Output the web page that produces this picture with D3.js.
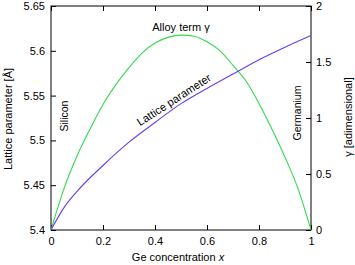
<html>
<script src='https://d3js.org/d3.v7.min.js'></script>
<body style="margin:0;background:#fff">
<div id='vis'></div>
<script>
// Ge concentration samples
let xLattice = [0, 0.05, 0.1, 0.2, 0.3, 0.4, 0.5, 0.6, 0.7, 0.8, 0.9, 1.0];
let lattice = [5.400, 5.425, 5.443, 5.472, 5.498, 5.520, 5.541, 5.558, 5.574, 5.590, 5.604, 5.617];

let xGamma = [0, 0.05, 0.1, 0.15, 0.2, 0.25, 0.3, 0.35, 0.4, 0.45, 0.5, 0.55, 0.6, 0.65, 0.7, 0.75, 0.8, 0.85, 0.9, 0.95, 1.0];
let gamma = [0, 0.37, 0.66, 0.90, 1.12, 1.30, 1.45, 1.58, 1.67, 1.72, 1.74, 1.73, 1.68, 1.60, 1.47, 1.33, 1.13, 0.90, 0.65, 0.37, 0];

let xTicks = [0, 0.2, 0.4, 0.6, 0.8, 1];
let leftTicks = [5.4, 5.45, 5.5, 5.55, 5.6, 5.65];
let rightTicks = [0, 0.5, 1, 1.5, 2];

let W = 355, H = 265;
let m = {left: 51, right: 44, top: 6, bottom: 35};
let font = 'Liberation Sans, Arial, sans-serif';

let svg = d3.select('#vis').append('svg').attr('width', W).attr('height', H)
    .style('font-family', font);

let x = d3.scaleLinear().domain([0, 1]).range([m.left, W - m.right]);
let yL = d3.scaleLinear().domain([5.4, 5.65]).range([H - m.bottom, m.top]);
let yR = d3.scaleLinear().domain([0, 2]).range([H - m.bottom, m.top]);

function styleAxis(g) {
    g.select('.domain').remove();
    g.selectAll('line').attr('stroke', '#000').attr('stroke-width', 1);
    g.selectAll('text').attr('font-size', 11).attr('fill', '#000').style('font-family', font);
}

// ticks point inward
svg.append('g').attr('transform', `translate(0,${H - m.bottom})`)
    .call(d3.axisBottom(x).tickValues(xTicks).tickFormat(d3.format('~g')).tickSizeInner(-5).tickPadding(7))
    .call(styleAxis);
svg.append('g').attr('transform', `translate(0,${m.top})`)
    .call(d3.axisTop(x).tickValues(xTicks).tickSizeInner(-5).tickFormat(''))
    .call(styleAxis);
svg.append('g').attr('transform', `translate(${m.left},0)`)
    .call(d3.axisLeft(yL).tickValues(leftTicks).tickFormat(d3.format('~g')).tickSizeInner(-5).tickPadding(6))
    .call(styleAxis);
svg.append('g').attr('transform', `translate(${W - m.right},0)`)
    .call(d3.axisRight(yR).tickValues(rightTicks).tickFormat(d3.format('~g')).tickSizeInner(-5).tickPadding(5))
    .call(styleAxis);

// frame
svg.append('rect')
    .attr('x', m.left).attr('y', m.top)
    .attr('width', W - m.left - m.right).attr('height', H - m.top - m.bottom)
    .attr('fill', 'none').attr('stroke', '#000').attr('stroke-width', 1);

let lineL = d3.line().x((d, i) => x(xLattice[i])).y(d => yL(d)).curve(d3.curveMonotoneX);
let lineG = d3.line().x((d, i) => x(xGamma[i])).y(d => yR(d)).curve(d3.curveMonotoneX);

svg.append('path').attr('d', lineG(gamma))
    .attr('fill', 'none').attr('stroke', '#33d94d').attr('stroke-width', 1.1);
svg.append('path').attr('d', lineL(lattice))
    .attr('fill', 'none').attr('stroke', '#6a3cf0').attr('stroke-width', 1.1);

// labels
svg.append('text').attr('transform', 'translate(12,119) rotate(-90)')
    .attr('text-anchor', 'middle').attr('font-size', 11).text('Lattice parameter [Å]');
svg.append('text').attr('transform', 'translate(352,117) rotate(-90)')
    .attr('text-anchor', 'middle').attr('font-size', 11).text('γ [adimensional]');
let xl = svg.append('text').attr('x', 178).attr('y', 261)
    .attr('text-anchor', 'middle').attr('font-size', 11);
xl.append('tspan').text('Ge concentration ');
xl.append('tspan').attr('font-style', 'italic').text('x');

svg.append('text').attr('transform', 'translate(68,116) rotate(-90)')
    .attr('text-anchor', 'middle').attr('font-size', 10.5).text('Silicon');
svg.append('text').attr('transform', 'translate(301,113) rotate(-90)')
    .attr('text-anchor', 'middle').attr('font-size', 10.5).text('Germanium');
svg.append('text').attr('x', 181).attr('y', 31)
    .attr('text-anchor', 'middle').attr('font-size', 11).text('Alloy term γ');
svg.append('text').attr('transform', 'translate(176,103) rotate(-33)')
    .attr('text-anchor', 'middle').attr('font-size', 11).text('Lattice parameter');
</script>
</body>
</html>
